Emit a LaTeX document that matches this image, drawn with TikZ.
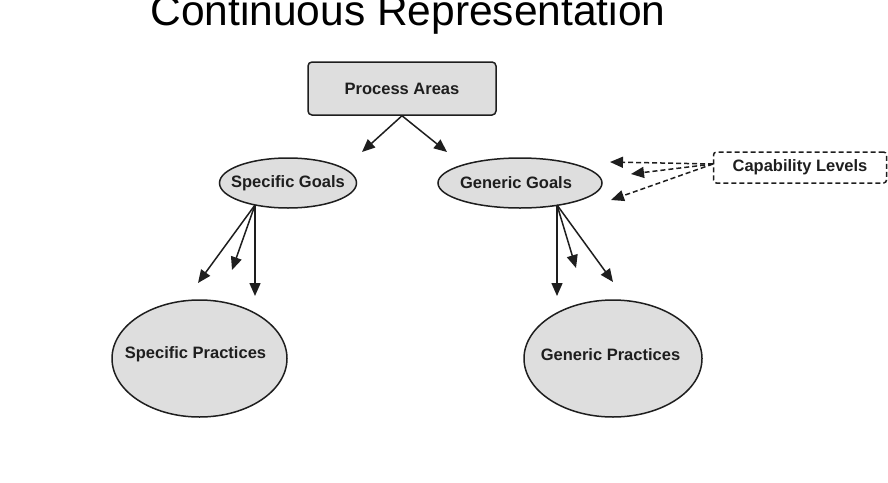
\documentclass[tikz,border=0pt]{standalone}
\usepackage{fontspec}
\setmainfont{Liberation Sans}
\usetikzlibrary{arrows.meta,shapes.geometric}
\definecolor{boxfill}{RGB}{222,222,222}
\definecolor{edge}{RGB}{30,30,30}
\tikzset{
  lbl/.style={font=\fontsize{16.5}{19}\selectfont\bfseries, text=edge},
  goal/.style={ellipse, draw=edge, fill=boxfill, line width=1.5pt, inner sep=0pt},
  conn/.style={draw=edge, line width=1.5pt, -{Triangle[length=13pt,width=11pt]}},
  dconn/.style={conn, dashed, dash pattern=on 5pt off 3pt}
}
\newcommand{\upby}[2]{\raisebox{#1}[\height][\depth]{#2}}
\begin{document}
\begin{tikzpicture}[x=1pt,y=-1pt]
\useasboundingbox (0,0) rectangle (888,482);
\node[anchor=base, font=\fontsize{42.5}{50}\selectfont] (title) at (408,25) {Continuous Representation};
\node[draw=edge, fill=boxfill, rounded corners=4pt, line width=1.5pt,
      minimum width=188pt, minimum height=53pt, lbl] (pa) at (402,88.5) {Process Areas};
\node[goal, inner xsep=-9pt, minimum width=137pt, minimum height=50pt, lbl] (sg) at (288,183) {Specific Goals};
\node[goal, minimum width=164pt, minimum height=50pt, lbl] (gg) at (520,183) {\hspace*{-8pt}Generic Goals};
\node[goal, inner xsep=-16pt, minimum width=175pt, minimum height=117pt, lbl] (sp) at (199.5,358.5) {\upby{4pt}{Specific Practices}\hspace*{8pt}};
\node[goal, inner xsep=-16pt, minimum width=178pt, minimum height=117pt, lbl] (gp) at (613,358.5) {\upby{4pt}{Generic Practices}\hspace*{5pt}};
\node[draw=edge, dashed, dash pattern=on 5pt off 3pt, rounded corners=3pt, line width=1.5pt,
      minimum width=173pt, minimum height=31pt, lbl] (cl) at (800,167.5) {Capability Levels};
% connectors
\coordinate (pab) at (pa.south);
\coordinate (t1) at (362,152);
\coordinate (t2) at (447,152);
\draw[conn] (pab) -- (t1);
\draw[conn] (pab) -- (t2);
\coordinate (sgs) at (255,205);
\coordinate (s1) at (198,283);
\coordinate (s2) at (232,270);
\coordinate (s3) at (255,296);
\draw[conn] (sgs) -- (s1);
\draw[conn] (sgs) -- (s2);
\draw[conn] (sgs) -- (s3);
\coordinate (ggs) at (557,205);
\coordinate (g1) at (557,296);
\coordinate (g2) at (576,268);
\coordinate (g3) at (613,282);
\draw[conn] (ggs) -- (g1);
\draw[conn] (ggs) -- (g2);
\draw[conn] (ggs) -- (g3);
\coordinate (cls) at (713,164);
\coordinate (c1) at (610,162);
\coordinate (c2) at (631,174);
\coordinate (c3) at (611,200);
\draw[dconn] (cls) -- (c1);
\draw[dconn] (cls) -- (c2);
\draw[dconn] (cls) -- (c3);
\end{tikzpicture}
\end{document}
